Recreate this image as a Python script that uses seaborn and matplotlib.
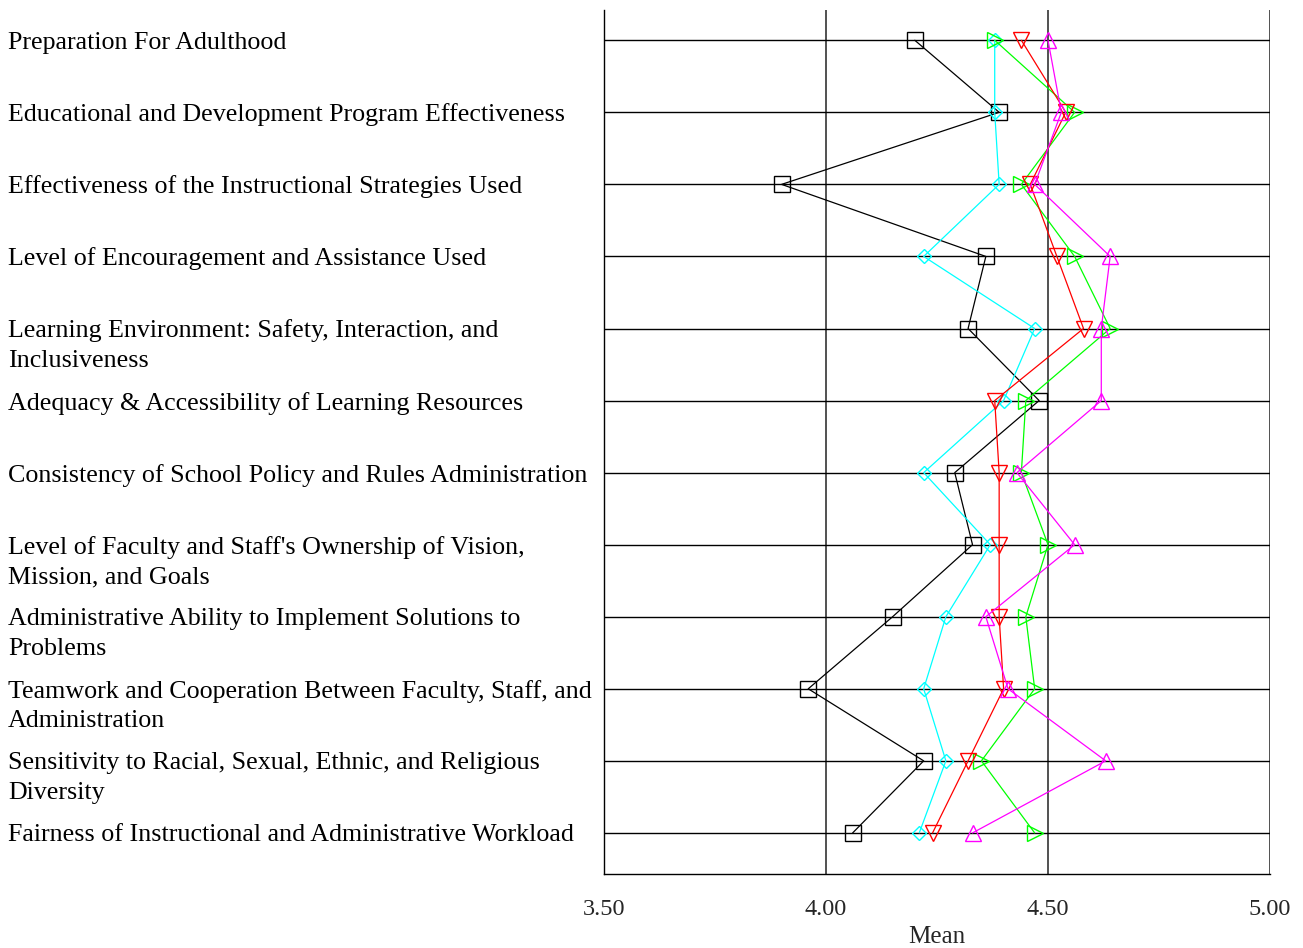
import matplotlib
matplotlib.use("Agg")
import matplotlib.pyplot as plt
import matplotlib.transforms as mtransforms
import seaborn as sns
import pandas as pd

categories = [
    "Preparation For Adulthood",
    "Educational and Development Program Effectiveness",
    "Effectiveness of the Instructional Strategies Used",
    "Level of Encouragement and Assistance Used",
    "Learning Environment: Safety, Interaction, and\nInclusiveness",
    "Adequacy & Accessibility of Learning Resources",
    "Consistency of School Policy and Rules Administration",
    "Level of Faculty and Staff's Ownership of Vision,\nMission, and Goals",
    "Administrative Ability to Implement Solutions to\nProblems",
    "Teamwork and Cooperation Between Faculty, Staff, and\nAdministration",
    "Sensitivity to Racial, Sexual, Ethnic, and Religious\nDiversity",
    "Fairness of Instructional and Administrative Workload",
]

black_sq = [4.20, 4.39, 3.90, 4.36, 4.32, 4.48, 4.29, 4.33, 4.15, 3.96, 4.22, 4.06]
cyan_dia = [4.38, 4.38, 4.39, 4.22, 4.47, 4.40, 4.22, 4.37, 4.27, 4.22, 4.27, 4.21]
green_tri = [4.38, 4.56, 4.44, 4.56, 4.64, 4.45, 4.44, 4.50, 4.45, 4.47, 4.35, 4.47]
red_tri = [4.44, 4.54, 4.46, 4.52, 4.58, 4.38, 4.39, 4.39, 4.39, 4.40, 4.32, 4.24]
magenta_tri = [4.50, 4.53, 4.47, 4.64, 4.62, 4.62, 4.43, 4.56, 4.36, 4.41, 4.63, 4.33]

x_ticks = [3.50, 4.00, 4.50, 5.00]
x_tick_labels = ["3.50", "4.00", "4.50", "5.00"]

series = [
    (black_sq, "#000000", "s", 11),
    (cyan_dia, "#00FFFF", "D", 7.5),
    (green_tri, "#00FF00", ">", 11.5),
    (red_tri, "#FF0000", "v", 11.5),
    (magenta_tri, "#FF00FF", "^", 11.5),
]

sns.set_style("white")
plt.rcParams["font.family"] = ["Liberation Serif", "DejaVu Serif"]

fig = plt.figure(figsize=(13.03, 9.48), dpi=100)
ax = fig.add_axes([604 / 1303, 1 - 874 / 948, 666 / 1303, 864 / 948])

rows = list(range(len(categories)))
for vals, color, marker, ms in series:
    df = pd.DataFrame({"mean": vals, "row": rows})
    sns.lineplot(data=df, x="mean", y="row", orient="y", sort=False, ax=ax,
                 color=color, marker=marker, markersize=ms, mfc="none",
                 mec=color, mew=1.0, lw=0.9, zorder=3)

ax.set_xlim(3.5, 5.0)
ax.set_ylim(len(categories) - 1 + 0.57, -0.42)

ax.set_xticks(x_ticks)
ax.set_xticklabels(x_tick_labels, fontsize=17.5)
ax.set_yticks(rows)
ax.set_yticklabels([])
ax.tick_params(axis="x", direction="out", length=6, width=1, color="black", pad=12)
ax.tick_params(axis="y", direction="out", length=6, width=1, color="black")
ax.set_xlabel("Mean", fontsize=18, labelpad=4)
ax.set_ylabel("")

ax.grid(True, axis="y", color="black", lw=1.0, zorder=1)
ax.grid(True, axis="x", color="#333333", lw=1.2, zorder=1)
for side in ["top", "right"]:
    ax.spines[side].set_visible(False)
for side in ["left", "bottom"]:
    ax.spines[side].set_color("black")
    ax.spines[side].set_linewidth(1.0)

trans = mtransforms.blended_transform_factory(fig.transFigure, ax.transData)
line_step = 30 / 72
for i, lab in enumerate(categories):
    for k, part in enumerate(lab.split("\n")):
        ax.text(8 / 1303, i + k * line_step, part, transform=trans,
                ha="left", va="center_baseline", fontsize=18.7, color="black",
                clip_on=False)

fig.savefig("out.png", dpi=100)
